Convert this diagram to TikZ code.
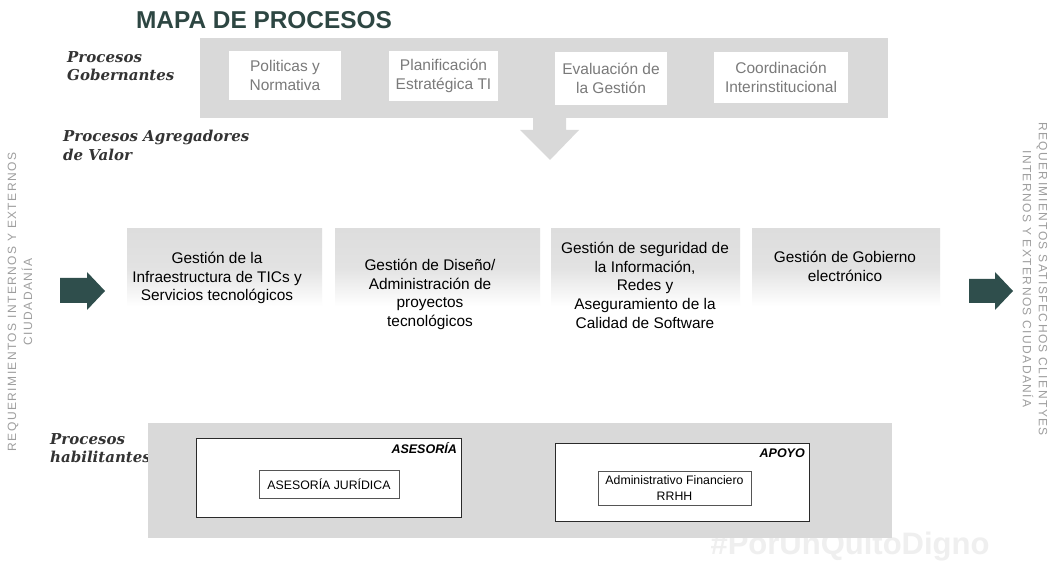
\documentclass[tikz,border=0pt]{standalone}
\usepackage{fontspec}
\newfontfamily\arial{Liberation Sans}
\newfontfamily\labfont{DejaVu Serif}
\newfontfamily\sidefont[LetterSpace=12]{Liberation Sans}
\definecolor{band}{HTML}{D9D9D9}
\definecolor{midgray}{HTML}{DDDDDD}
\definecolor{arrowc}{HTML}{2F4E4C}
\definecolor{titlec}{HTML}{2D4642}
\definecolor{toptext}{HTML}{7A7A7A}
\definecolor{sidec}{HTML}{9E9E9E}
\definecolor{labc}{HTML}{333333}
\definecolor{boxline}{HTML}{2A2A2A}
\definecolor{wmark}{HTML}{EFEFEF}
\tikzset{
  bandbox/.style={fill=band, inner sep=0pt, anchor=north west},
  topbox/.style={fill=white, inner sep=0pt, align=center, text=toptext,
    font=\arial\fontsize{15.5}{19}\selectfont},
  midbox/.style={inner sep=0pt, anchor=north west, top color=midgray, bottom color=white, middle color=midgray!85},
  midtext/.style={inner sep=0pt, anchor=north, align=center, text=black,
    font=\arial\fontsize{15.4}{18.7}\selectfont},
  proclabel/.style={inner sep=0pt, anchor=north west, align=left, text=labc,
    font=\labfont\bfseries\itshape\fontsize{15}{18.5}\selectfont},
  outerbox/.style={draw=boxline, line width=1.1pt, fill=white, inner sep=0pt, anchor=north west},
  innerbox/.style={draw=boxline!80, line width=0.7pt, fill=white, inner sep=0pt, align=center,
    font=\arial\fontsize{12.3}{15.5}\selectfont},
  boxtag/.style={inner sep=0pt, anchor=north east, font=\arial\bfseries\itshape\fontsize{12.5}{14}\selectfont},
  sidetext/.style={inner sep=0pt, align=center, text=sidec, font=\sidefont\fontsize{12}{16}\selectfont},
  bigarrow/.style={fill=arrowc}
}
\begin{document}
\begin{tikzpicture}[x=1pt,y=-1pt]
\useasboundingbox (0,0) rectangle (1053,564);
\fill[white] (0,0) rectangle (1053,564);

% watermark
\node[font=\arial\bfseries\fontsize{31}{31}\selectfont, text=wmark] (wm) at (850,547) {\#PorUnQuitoDigno};

% title
\node[font=\arial\bfseries\fontsize{24.4}{28}\selectfont, text=titlec, inner sep=0pt] (title) at (264,20) {MAPA DE PROCESOS};

% governing band
\node[bandbox, minimum width=688pt, minimum height=80pt] (gob) at (200,38) {};
\node[topbox, minimum width=112pt, minimum height=49pt] (g1) at (285,75.5) {Politicas y\\Normativa};
\node[topbox, minimum width=109pt, minimum height=50pt] (g2) at (443.5,76) {Planificación\\Estratégica TI};
\node[topbox, minimum width=112pt, minimum height=53pt] (g3) at (611,78.5) {Evaluación de\\la Gestión};
\node[topbox, minimum width=134pt, minimum height=51pt] (g4) at (781,77.5) {Coordinación\\Interinstitucional};

% down arrow
\fill[band] (533,117) -- (566,117) -- (566,130) -- (579,130) -- (550,160) -- (520,130) -- (533,130) -- cycle;

% labels
\node[proclabel] (lg) at (67,51) {Procesos\\Gobernantes};
\node[proclabel] (la) at (63,130) {Procesos Agregadores\\de Valor};
\node[proclabel] (lh) at (50,433) {Procesos\\habilitantes};

% value-adding boxes
\node[midbox, minimum width=195pt, minimum height=78pt] (m1) at (127,228) {};
\node[midbox, minimum width=205pt, minimum height=78pt] (m2) at (335,228) {};
\node[midbox, minimum width=189pt, minimum height=78pt] (m3) at (551,228) {};
\node[midbox, minimum width=188pt, minimum height=78pt] (m4) at (752,228) {};
\node[midtext] (t1) at (217,252) {Gestión de la\\Infraestructura de TICs y\\Servicios tecnológicos};
\node[midtext] (t2) at (430,259) {Gestión de Diseño/\\Administración de\\proyectos\\tecnológicos};
\node[midtext] (t3) at (645,242) {Gestión de seguridad de\\la Información,\\Redes y\\Aseguramiento de la\\Calidad de Software};
\node[midtext] (t4) at (845,251) {Gestión de Gobierno\\electrónico};

% side arrows
\fill[bigarrow] (60,278) -- (87,278) -- (87,272) -- (105,291) -- (87,310) -- (87,303) -- (60,303) -- cycle;
\fill[bigarrow] (969,279) -- (995,279) -- (995,272) -- (1013,291) -- (995,310) -- (995,303) -- (969,303) -- cycle;

% side texts
\node[sidetext, rotate=90] (sl) at (20,302) {REQUERIMIENTOS INTERNOS Y EXTERNOS\\CIUDADANÍA};
\node[sidetext, rotate=-90] (sr) at (1035,279) {REQUERIMIENTOS SATISFECHOS CLIENTYES\\INTERNOS Y EXTERNOS CIUDADANÍA};

% enabling band
\node[bandbox, minimum width=744pt, minimum height=115pt] (hab) at (148,423) {};
\node[outerbox, minimum width=265pt, minimum height=79pt] (ases) at (196,438) {};
\node[boxtag] (tases) at (457,442) {ASESORÍA};
\node[innerbox, minimum width=140pt, minimum height=28pt] (jur) at (329,484) {ASESORÍA JURÍDICA};
\node[outerbox, minimum width=254pt, minimum height=78pt] (apoyo) at (555,443) {};
\node[boxtag] (tapoyo) at (805,449) {APOYO};
\node[innerbox, minimum width=153pt, minimum height=34pt] (adm) at (674.5,488) {Administrativo Financiero\\RRHH};
\end{tikzpicture}
\end{document}
